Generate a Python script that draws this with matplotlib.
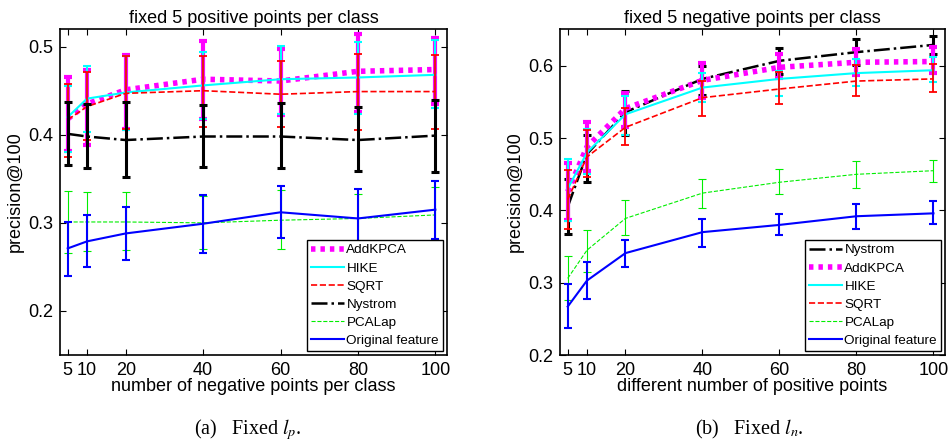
import matplotlib
matplotlib.use("Agg")
import matplotlib.pyplot as plt

matplotlib.rcParams["font.family"] = ["Liberation Sans", "DejaVu Sans"]
matplotlib.rcParams["mathtext.fontset"] = "stix"

x = [5, 10, 20, 40, 60, 80, 100]

# (a) fixed positive points, varying negatives
a_addkpca = [0.418, 0.435, 0.451, 0.463, 0.461, 0.472, 0.474]
a_addkpca_lo = [0.382, 0.388, 0.407, 0.418, 0.422, 0.426, 0.435]
a_addkpca_hi = [0.465, 0.473, 0.491, 0.506, 0.497, 0.514, 0.510]
a_hike = [0.420, 0.441, 0.448, 0.456, 0.463, 0.465, 0.468]
a_hike_lo = [0.380, 0.403, 0.405, 0.418, 0.424, 0.424, 0.430]
a_hike_hi = [0.455, 0.478, 0.489, 0.494, 0.501, 0.505, 0.507]
a_sqrt = [0.417, 0.432, 0.447, 0.450, 0.446, 0.449, 0.449]
a_sqrt_lo = [0.375, 0.394, 0.407, 0.409, 0.409, 0.405, 0.407]
a_sqrt_hi = [0.458, 0.471, 0.489, 0.489, 0.484, 0.492, 0.491]
a_nystrom = [0.401, 0.398, 0.394, 0.398, 0.398, 0.394, 0.399]
a_nystrom_lo = [0.366, 0.362, 0.352, 0.363, 0.362, 0.359, 0.358]
a_nystrom_hi = [0.437, 0.435, 0.437, 0.434, 0.436, 0.431, 0.440]
a_pcalap = [0.301, 0.301, 0.301, 0.300, 0.303, 0.305, 0.309]
a_pcalap_lo = [0.266, 0.268, 0.269, 0.270, 0.270, 0.277, 0.280]
a_pcalap_hi = [0.336, 0.335, 0.335, 0.330, 0.337, 0.333, 0.341]
a_orig = [0.271, 0.279, 0.288, 0.299, 0.312, 0.305, 0.315]
a_orig_lo = [0.240, 0.250, 0.258, 0.266, 0.283, 0.272, 0.282]
a_orig_hi = [0.301, 0.309, 0.318, 0.332, 0.342, 0.338, 0.347]

# (b) fixed negative points, varying positives
b_nystrom = [0.405, 0.478, 0.536, 0.582, 0.607, 0.619, 0.629]
b_nystrom_lo = [0.368, 0.440, 0.505, 0.560, 0.589, 0.601, 0.616]
b_nystrom_hi = [0.443, 0.504, 0.565, 0.600, 0.625, 0.637, 0.642]
b_addkpca = [0.426, 0.488, 0.541, 0.580, 0.598, 0.605, 0.606]
b_addkpca_lo = [0.387, 0.455, 0.515, 0.556, 0.583, 0.587, 0.590]
b_addkpca_hi = [0.465, 0.522, 0.562, 0.604, 0.617, 0.623, 0.626]
b_hike = [0.430, 0.480, 0.533, 0.570, 0.582, 0.590, 0.594]
b_hike_lo = [0.385, 0.450, 0.504, 0.550, 0.559, 0.572, 0.578]
b_hike_hi = [0.471, 0.513, 0.559, 0.590, 0.593, 0.610, 0.612]
b_sqrt = [0.415, 0.474, 0.515, 0.556, 0.568, 0.579, 0.582]
b_sqrt_lo = [0.375, 0.446, 0.490, 0.531, 0.547, 0.558, 0.564]
b_sqrt_hi = [0.456, 0.511, 0.542, 0.579, 0.592, 0.601, 0.602]
b_pcalap = [0.306, 0.345, 0.389, 0.424, 0.439, 0.450, 0.455]
b_pcalap_lo = [0.276, 0.315, 0.366, 0.404, 0.423, 0.431, 0.440]
b_pcalap_hi = [0.337, 0.373, 0.414, 0.443, 0.457, 0.468, 0.470]
b_orig = [0.267, 0.303, 0.341, 0.370, 0.380, 0.392, 0.396]
b_orig_lo = [0.237, 0.277, 0.322, 0.350, 0.366, 0.375, 0.381]
b_orig_hi = [0.298, 0.328, 0.359, 0.388, 0.395, 0.409, 0.413]

styles = {
    "AddKPCA": dict(color="#ff00ff", ls=(0, (0.8, 0.9)), lw=4.0, elw=3.0, cap=3),
    "HIKE": dict(color="#00ffff", ls="-", lw=1.5, elw=1.5, cap=3),
    "SQRT": dict(color="#ff0000", ls="--", lw=1.2, elw=1.3, cap=3),
    "Nystrom": dict(color="#000000", ls="-.", lw=1.8, elw=2.2, cap=3),
    "PCALap": dict(color="#00ee00", ls="--", lw=0.8, elw=0.8, cap=3),
    "Original feature": dict(color="#0000ff", ls="-", lw=1.5, elw=1.5, cap=3),
}


def draw(ax, name, mean, lo, hi):
    s = styles[name]
    err = [[m - l for m, l in zip(mean, lo)], [h - m for m, h in zip(mean, hi)]]
    ax.errorbar(x, mean, yerr=err, fmt="none", ecolor=s["color"],
                elinewidth=s["elw"], capsize=s["cap"], capthick=s["elw"])
    line, = ax.plot(x, mean, color=s["color"], linestyle=s["ls"], linewidth=s["lw"],
                    label=name)
    line.set_dash_capstyle("butt")
    return line


fig = plt.figure(figsize=(9.49, 4.45), dpi=100)
ax1 = fig.add_axes([0.0632, 0.2022, 0.4078, 0.7326])
ax2 = fig.add_axes([0.5901, 0.2022, 0.4057, 0.7326])

draw(ax1, "AddKPCA", a_addkpca, a_addkpca_lo, a_addkpca_hi)
draw(ax1, "HIKE", a_hike, a_hike_lo, a_hike_hi)
draw(ax1, "SQRT", a_sqrt, a_sqrt_lo, a_sqrt_hi)
draw(ax1, "Nystrom", a_nystrom, a_nystrom_lo, a_nystrom_hi)
draw(ax1, "PCALap", a_pcalap, a_pcalap_lo, a_pcalap_hi)
draw(ax1, "Original feature", a_orig, a_orig_lo, a_orig_hi)

draw(ax2, "Nystrom", b_nystrom, b_nystrom_lo, b_nystrom_hi)
draw(ax2, "AddKPCA", b_addkpca, b_addkpca_lo, b_addkpca_hi)
draw(ax2, "HIKE", b_hike, b_hike_lo, b_hike_hi)
draw(ax2, "SQRT", b_sqrt, b_sqrt_lo, b_sqrt_hi)
draw(ax2, "PCALap", b_pcalap, b_pcalap_lo, b_pcalap_hi)
draw(ax2, "Original feature", b_orig, b_orig_lo, b_orig_hi)

ax1.set_ylim(0.15, 0.52)
ax1.set_yticks([0.2, 0.3, 0.4, 0.5])
ax2.set_ylim(0.2, 0.651)
ax2.set_yticks([0.2, 0.3, 0.4, 0.5, 0.6])

for ax, title, xlabel in [(ax1, "fixed 5 positive points per class", "number of negative points per class"),
                          (ax2, "fixed 5 negative points per class", "different number of positive points")]:
    ax.set_xlim(3, 103)
    ax.set_xticks(x)
    ax.set_xticklabels(["5", "10", "20", "40", "60", "80", "100"])
    ax.tick_params(direction="in", top=True, right=True, labelsize=13, length=4, width=0.8, pad=5)
    for sp in ax.spines.values():
        sp.set_linewidth(1.2)
    ax.set_title(title, fontsize=13, pad=4)
    ax.set_xlabel(xlabel, fontsize=13, labelpad=-1)
    ax.set_ylabel("precision@100", fontsize=13, labelpad=3)
    leg = ax.legend(loc="lower right", fontsize=9.7, frameon=True, fancybox=False,
                    edgecolor="black", framealpha=1, handlelength=2.5,
                    borderaxespad=0.3, borderpad=0.3, labelspacing=0.42, handletextpad=0.15)
    leg.get_frame().set_linewidth(1.0)

fig.text(0.261, 0.034, "(a)   Fixed $l_p$.", ha="center", va="center", fontsize=14.5,
         family=["Liberation Serif", "DejaVu Serif"])
fig.text(0.790, 0.034, "(b)   Fixed $l_n$.", ha="center", va="center", fontsize=14.5,
         family=["Liberation Serif", "DejaVu Serif"])

fig.savefig("out.png", dpi=100)
